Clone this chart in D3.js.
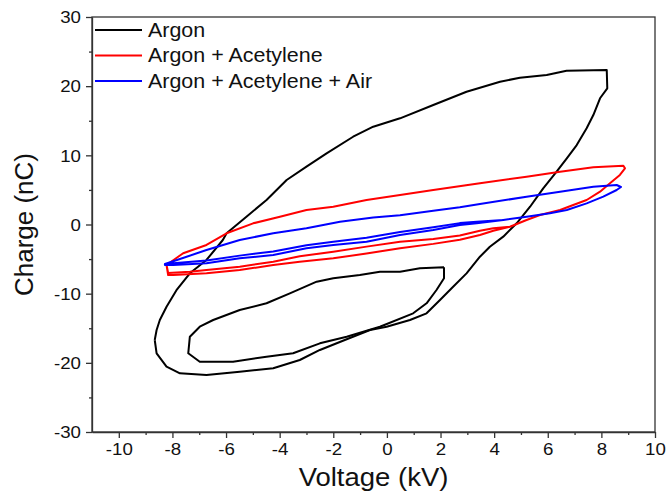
<!DOCTYPE html>
<html><head><meta charset="utf-8">
<script src="https://cdn.jsdelivr.net/npm/d3@7"></script>
<style>
body{margin:0;background:#fff}
svg{display:block}
text{font-family:Arial,"Liberation Sans",sans-serif;fill:#111}
</style></head>
<body><svg id="c" width="668" height="498"></svg>
<script>
// ---- data ----
const seriesNames = ["Argon", "Argon + Acetylene", "Argon + Acetylene + Air"];
const seriesColors = ["#000000", "#ff0000", "#0000ff"];
const xTicks = [-10, -8, -6, -4, -2, 0, 2, 4, 6, 8, 10];
const xMinorTicks = [-9, -7, -5, -3, -1, 1, 3, 5, 7, 9];
const yTicks = [-30, -20, -10, 0, 10, 20, 30];
const yMinorTicks = [-25, -15, -5, 5, 15, 25];

// Argon: outer loop (Voltage kV, Charge nC)
const argonOuter = [[-8.66,-16.7],[-8.59,-15.25],[-8.47,-13.8],[-8.22,-11.9],[-7.85,-9.5],[-7.35,-7.05],[-6.73,-5.13],[-6.12,-2.24],[-5.98,-1.27],[-5.24,1.13],[-4.49,3.54],[-3.74,6.44],[-3.0,8.36],[-2.25,10.29],[-1.26,12.69],[-0.51,14.14],[0.49,15.35],[1.73,17.28],[2.97,19.2],[4.22,20.64],[4.96,21.22],[5.96,21.61],[6.7,22.23],[8.2,22.34],[8.22,19.69],[7.95,18.25],[7.7,15.83],[7.45,13.91],[7.08,11.49],[6.71,9.57],[6.33,7.63],[5.83,5.23],[5.34,2.57],[4.84,0.17],[4.34,-1.76],[3.84,-3.21],[3.47,-4.66],[2.97,-7.06],[2.47,-9.0],[1.98,-10.92],[1.48,-12.84],[0.86,-13.81],[-0.01,-14.78],[-0.63,-15.25],[-1.57,-16.7],[-2.5,-18.14],[-3.25,-19.59],[-4.24,-20.79],[-5.49,-21.28],[-6.73,-21.76],[-7.72,-21.51],[-8.22,-20.56],[-8.59,-18.62],[-8.66,-16.7]];
// Argon: inner loop
const argonInner = [[2.13,-6.17],[1.23,-6.33],[0.49,-6.82],[-0.26,-6.82],[-1.01,-7.3],[-2.0,-7.78],[-2.62,-8.27],[-3.62,-9.95],[-4.49,-11.39],[-5.49,-12.36],[-6.48,-13.81],[-6.98,-14.78],[-7.35,-16.22],[-7.41,-18.62],[-6.98,-19.84],[-5.74,-19.84],[-4.49,-19.11],[-3.5,-18.62],[-2.5,-17.18],[-1.5,-16.22],[-0.26,-14.78],[0.98,-12.84],[1.48,-11.39],[1.85,-9.47],[2.13,-7.76],[2.13,-6.17]];

// Argon + Acetylene: upper branch + right tip, two lower branches
const acetUpper = [[-8.22,-5.86],[-7.6,-4.16],[-6.73,-2.96],[-5.98,-1.27],[-4.99,0.17],[-3.99,1.13],[-3.0,2.1],[-2.0,2.57],[-0.76,3.54],[0.49,4.26],[1.73,4.99],[3.47,5.96],[5.21,6.91],[6.46,7.63],[7.7,8.27],[8.82,8.5],[8.88,8.12],[8.69,7.16],[8.32,5.96],[7.95,4.74],[7.45,3.54],[6.95,2.82],[6.46,2.1],[5.71,1.37],[5.21,0.65],[4.59,-0.32]];
const acetLowerA = [[3.97,-0.55],[3.47,-0.9],[2.72,-1.6],[1.73,-2.1],[0.49,-2.49],[-0.76,-3.2],[-2.0,-3.93],[-3.25,-4.6],[-4.24,-5.38],[-5.49,-6.1],[-6.73,-6.58],[-7.35,-6.82],[-8.16,-7.01],[-8.22,-5.86]];
const acetLowerB = [[3.97,-0.9],[3.47,-1.52],[2.72,-2.2],[1.73,-2.8],[0.49,-3.44],[-0.76,-4.2],[-2.0,-4.89],[-3.25,-5.38],[-4.24,-5.86],[-5.49,-6.58],[-6.73,-7.06],[-7.97,-7.3],[-8.16,-7.3],[-8.22,-5.86]];

// Argon + Acetylene + Air
const airUpper = [[-8.28,-5.71],[-7.72,-4.99],[-6.73,-3.69],[-5.49,-2.24],[-4.24,-1.27],[-3.0,-0.55],[-1.75,0.4],[-0.51,1.0],[0.49,1.35],[1.73,2.0],[2.72,2.49],[3.47,2.96],[5.21,4.02],[6.46,4.74],[7.7,5.46],[8.57,5.71],[8.73,5.42],[8.57,4.99],[8.07,4.02],[7.45,3.06],[6.71,2.1],[6.08,1.62],[5.21,1.13],[4.34,0.65]];
const airLowerA = [[3.35,0.17],[2.72,-0.07],[1.73,-0.8],[0.49,-1.52],[-0.76,-2.49],[-2.0,-2.96],[-3.0,-3.44],[-4.24,-4.41],[-5.49,-4.89],[-6.73,-5.61],[-7.97,-5.86],[-8.28,-5.86],[-8.28,-5.71]];
const airLowerB = [[3.35,0.4],[2.72,0.2],[1.73,-0.4],[0.49,-1.1],[-0.76,-1.9],[-2.0,-2.5],[-3.0,-3.0],[-4.24,-3.9],[-5.49,-4.5],[-6.73,-5.2],[-7.97,-5.6],[-8.28,-5.71]];

// ---- chart ----
const svg = d3.select("#c");
const W = 668, H = 498;
const m = {left: 92, right: 13, top: 17, bottom: 66};
const x = d3.scaleLinear().domain([-11, 10]).range([m.left, W - m.right]);
const y = d3.scaleLinear().domain([-30, 30]).range([H - m.bottom, m.top]);
const axisColor = "#333";
const sx = 1.1; // horizontal text stretch of the original picture
const fmt = d => String(d); // plain hyphen-minus like the original

svg.append("rect").attr("width", W).attr("height", H).attr("fill", "#fff");

// box
svg.append("rect")
  .attr("x", x.range()[0]).attr("y", y.range()[1])
  .attr("width", x.range()[1] - x.range()[0]).attr("height", y.range()[0] - y.range()[1])
  .attr("fill", "none").attr("stroke", axisColor).attr("stroke-width", 1.3);

// axes
function styleAxis(g){
  g.selectAll(".domain").attr("stroke", axisColor).attr("stroke-width", 1.3);
  g.selectAll(".tick line").attr("stroke", axisColor).attr("stroke-width", 1.3);
  g.selectAll(".tick text").attr("font-size", 17).attr("fill", "#111")
   .attr("font-family", "Arial, 'Liberation Sans', sans-serif");
}
const gx = svg.append("g").attr("transform", `translate(0,${y.range()[0]})`)
  .call(d3.axisBottom(x).tickValues(xTicks).tickFormat(fmt).tickSize(6).tickPadding(5).tickSizeOuter(0));
styleAxis(gx);
gx.selectAll(".tick text").attr("transform", `scale(${sx},1)`);
const gxm = svg.append("g").attr("transform", `translate(0,${y.range()[0]})`)
  .call(d3.axisBottom(x).tickValues(xMinorTicks).tickSize(3).tickFormat(""));
styleAxis(gxm); gxm.select(".domain").remove();

const gy = svg.append("g").attr("transform", `translate(${x.range()[0]},0)`)
  .call(d3.axisLeft(y).tickValues(yTicks).tickFormat(fmt).tickSize(6).tickPadding(4).tickSizeOuter(0));
styleAxis(gy);
gy.selectAll(".tick text").attr("transform", `scale(${sx},1)`).attr("dy", "0.34em");
const gym = svg.append("g").attr("transform", `translate(${x.range()[0]},0)`)
  .call(d3.axisLeft(y).tickValues(yMinorTicks).tickSize(3).tickFormat(""));
styleAxis(gym); gym.select(".domain").remove();

// axis titles
svg.append("g").attr("transform", `translate(${(x.range()[0] + x.range()[1]) / 2},486) scale(${sx},1)`)
  .append("text").attr("text-anchor", "middle").attr("font-size", 25).text("Voltage (kV)");
svg.append("g").attr("transform", `translate(33,${(y.range()[0] + y.range()[1]) / 2}) rotate(-90)`)
  .append("text").attr("text-anchor", "middle").attr("font-size", 26).text("Charge (nC)");

// curves
const line = d3.line().x(d => x(d[0])).y(d => y(d[1])).curve(d3.curveLinear);
const plot = svg.append("g");
const paths = [
  {pts: argonOuter, c: seriesColors[0]},
  {pts: argonInner, c: seriesColors[0]},
  {pts: [...acetUpper, ...acetLowerA, ...acetUpper, ...acetLowerB], c: seriesColors[1]},
  {pts: [...airUpper, ...airLowerA, ...airUpper, ...airLowerB], c: seriesColors[2]}
];
paths.forEach(p => {
  plot.append("path").datum(p.pts).attr("d", line)
    .attr("fill", "none").attr("stroke", p.c).attr("stroke-width", 2)
    .attr("stroke-linejoin", "round");
});

// legend
const leg = svg.append("g");
seriesNames.forEach((name, i) => {
  const yy = 30 + i * 25.5;
  leg.append("line").attr("x1", 95).attr("x2", 142).attr("y1", yy).attr("y2", yy)
    .attr("stroke", seriesColors[i]).attr("stroke-width", 2);
  leg.append("g").attr("transform", `translate(148,${yy + 6.5}) scale(${sx},1)`)
    .append("text").attr("font-size", 19.5).text(name);
});
</script></body></html>
